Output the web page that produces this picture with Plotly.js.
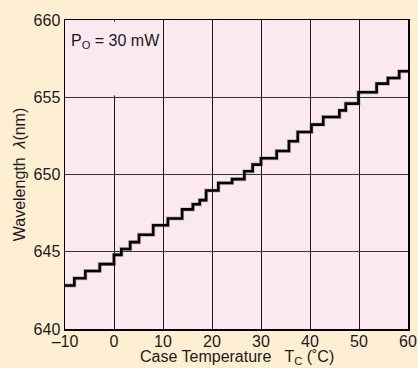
<!DOCTYPE html>
<html>
<head>
<meta charset="utf-8">
<script src="https://cdn.plot.ly/plotly-3.0.1.min.js"></script>
<style>
html,body{margin:0;padding:0;background:#FEEFD2;}
#chart{width:418px;height:368px;}
</style>
</head>
<body>
<div id="chart"></div>
<script>
// Case temperature (°C) where each wavelength step begins
const tempC = [-10, -8.1, -5.85, -2.9, 0, 1.5, 3.3, 5.1, 8.0, 11.0, 13.9, 16.1, 17.5, 18.8, 21.3, 24.1, 26.6, 28.3, 30.0, 33.2, 35.7, 37.5, 40.3, 42.7, 46.0, 47.3, 49.9, 53.6, 55.9, 58.2, 60];
// Wavelength (nm) of each step
const wavelengthNm = [642.82, 643.28, 643.75, 644.2, 644.8, 645.18, 645.62, 646.1, 646.72, 647.15, 647.74, 648.07, 648.34, 648.96, 649.45, 649.7, 650.21, 650.64, 651.05, 651.52, 652.15, 652.75, 653.23, 653.72, 654.15, 654.59, 655.32, 655.88, 656.25, 656.68, 656.68];

const xTickVals = [-10, 0, 10, 20, 30, 40, 50, 60];
const xTickText = ['–10', '0', '10', '20', '30', '40', '50', '60'];
const yTickVals = [640, 645, 650, 655, 660];
const yTickText = ['640', '645', '650', '655', '660'];

const font = {family: 'Liberation Sans, Arial, sans-serif', size: 16, color: '#1a1a1a'};

const traces = [
  { // soft shadow
    x: tempC, y: wavelengthNm, type: 'scatter', mode: 'lines',
    line: {shape: 'hv', color: 'rgba(120,110,115,0.45)', width: 4},
    hoverinfo: 'skip'
  },
  {
    x: tempC, y: wavelengthNm, type: 'scatter', mode: 'lines',
    line: {shape: 'hv', color: '#000000', width: 2.6}
  }
];

const layout = {
  width: 418, height: 368,
  margin: {l: 65, r: 10, t: 20, b: 39},
  paper_bgcolor: '#FEEFD2',
  plot_bgcolor: '#FCE8F1',
  showlegend: false,
  font: font,
  xaxis: {
    range: [-10, 60], tickvals: xTickVals, ticktext: xTickText,
    showgrid: true, gridcolor: '#1a1a1a', gridwidth: 1,
    zeroline: false, showline: true, linecolor: '#000', linewidth: 1.5, mirror: true,
    ticks: '', ticklen: 0, tickfont: font, ticklabelstandoff: -3
  },
  yaxis: {
    range: [640, 660], tickvals: yTickVals, ticktext: yTickText,
    showgrid: true, gridcolor: '#333', gridwidth: 1,
    zeroline: false, showline: true, linecolor: '#000', linewidth: 1.5, mirror: true,
    ticks: '', ticklen: 0, tickfont: font,
    title: {text: 'Wavelength  <i>λ</i>(nm)', font: font, standoff: 4}
  },
  shapes: [
    {type: 'rect', xref: 'x', yref: 'y', x0: -0.6, x1: 0.6, y0: 655.12, y1: 659.9,
     fillcolor: '#FCE8F1', line: {width: 0}, layer: 'above'}
  ],
  annotations: [
    {xref: 'x', yref: 'y', x: -9.1, y: 658.6, xanchor: 'left', yanchor: 'middle',
     text: 'P<sub>O</sub> = 30 mW', showarrow: false, font: font},
    {xref: 'paper', yref: 'paper', x: 0.5, y: -0.092, xanchor: 'center', yanchor: 'middle',
     text: 'Case Temperature   T<sub>C</sub> (˚C)', showarrow: false, font: font}
  ]
};

Plotly.newPlot('chart', traces, layout, {staticPlot: true, displayModeBar: false});
</script>
</body>
</html>
